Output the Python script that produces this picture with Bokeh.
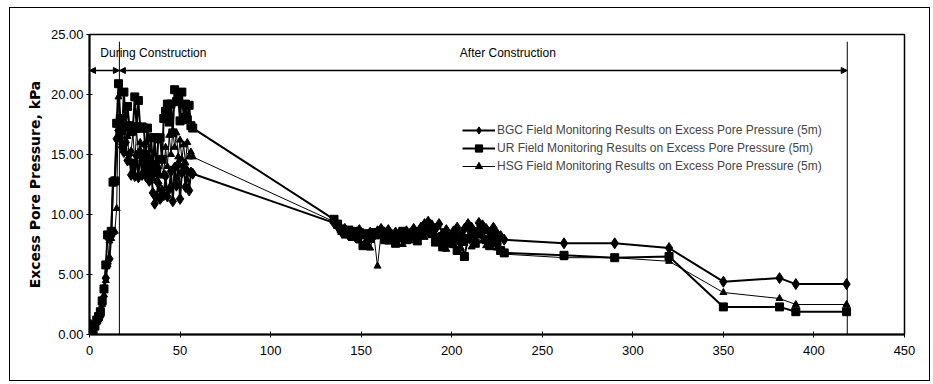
from bokeh.plotting import figure
from bokeh.models import (Range1d, FixedTicker, NumeralTickFormatter, Label, Arrow,
                          NormalHead, Legend)
from bokeh.embed import file_html
from bokeh.resources import INLINE

# ---------------- data ----------------
early_days = list(range(0, 58))
mid_days = list(range(135, 230, 2))
late_days = [262, 290, 320, 350, 381, 390, 418]

bgc_early = [0.3, 0.5, 0.6, 0.8, 1.0, 1.2, 1.5, 2.6, 3.8, 4.7, 5.9, 6.3, 8.2, 12.7, 12.8, 16.3, 17.0, 16.4,
             15.6, 15.2, 16.0, 14.5, 15.0, 13.3, 14.2, 13.2, 14.9, 13.1, 15.2, 13.3, 14.6, 13.2, 14.8, 12.8,
             13.6, 11.8, 10.9, 11.5, 12.6, 11.3, 12.0, 11.6, 13.2, 11.5, 12.1, 13.6, 11.1, 13.9, 12.4, 14.2,
             11.3, 13.5, 14.0, 12.3, 13.6, 12.0, 13.5, 13.4]
ur_early = [0.0, 0.1, 0.3, 0.7, 1.2, 1.5, 1.9, 2.8, 3.8, 5.8, 8.3, 8.2, 8.6, 12.7, 12.8, 17.6, 20.9, 18.0,
            17.0, 20.2, 17.3, 19.0, 17.4, 16.9, 17.3, 19.8, 17.3, 19.5, 17.2, 17.3, 17.2, 15.0, 17.2, 14.6,
            16.4, 14.0, 16.4, 13.5, 16.3, 16.4, 14.6, 18.0, 18.6, 19.2, 17.7, 19.2, 16.8, 20.4, 19.4, 19.8,
            17.8, 20.2, 18.1, 19.2, 17.9, 19.1, 17.4, 17.2]
hsg_early = [1.0, 0.9, 0.8, 1.0, 1.2, 1.5, 1.9, 2.5, 3.3, 4.5, 5.8, 7.8, 8.0, 8.5, 8.6, 10.5, 19.8, 16.8,
             16.0, 17.2, 15.1, 16.5, 14.6, 15.3, 16.8, 14.3, 17.0, 15.2, 16.0, 14.6, 15.8, 13.8, 15.0, 13.5,
             14.6, 13.0, 14.2, 12.8, 14.0, 13.2, 14.5, 13.4, 15.6, 14.0, 16.6, 15.0, 17.0, 15.6, 16.8, 14.8,
             16.2, 14.6, 15.8, 14.3, 16.0, 14.8, 15.2, 14.8]

bgc_mid = [9.3, 9.0, 8.6, 8.8, 8.3, 8.6, 8.1, 8.7, 8.4, 7.6, 8.5, 8.2, 8.6, 8.8, 8.3, 8.7, 8.0, 8.5, 8.4, 7.9,
           8.6, 8.3, 8.8, 8.5, 8.9, 9.2, 9.4, 9.1, 8.8, 9.2, 8.4, 8.7, 8.1, 8.6, 8.9, 8.3, 8.8, 9.2, 8.9, 8.5,
           9.3, 9.1, 8.8, 8.5, 8.9, 8.4, 8.2, 7.9]
ur_mid = [9.6, 9.2, 8.8, 8.5, 8.7, 8.2, 8.6, 8.3, 7.4, 8.4, 8.0, 8.5, 8.3, 8.6, 7.9, 8.4, 8.1, 7.6, 8.3, 8.6,
          7.9, 8.2, 8.5, 7.8, 8.3, 8.6, 8.9, 8.4, 7.7, 8.1, 7.3, 8.0, 7.6, 8.2, 7.0, 7.8, 6.5, 8.0, 8.4, 7.6,
          8.5, 8.8, 7.9, 7.4, 8.2, 7.7, 7.0, 6.8]
hsg_mid = [9.4, 9.0, 8.5, 8.2, 8.5, 8.0, 8.3, 7.8, 8.2, 7.9, 7.2, 8.3, 5.7, 8.4, 8.1, 7.7, 8.3, 7.9, 8.2, 7.5,
           8.1, 7.8, 8.3, 8.0, 8.4, 8.1, 8.7, 8.3, 7.6, 8.2, 7.8, 7.1, 8.0, 7.4, 7.9, 7.2, 7.6, 7.8, 7.3, 7.9,
           8.2, 7.8, 7.4, 8.0, 7.5, 7.2, 6.9, 6.7]

bgc_late = [7.6, 7.6, 7.2, 4.4, 4.7, 4.2, 4.2]
ur_late = [6.6, 6.4, 6.5, 2.3, 2.3, 1.9, 1.9]
hsg_late = [6.4, 6.4, 6.1, 3.5, 3.0, 2.5, 2.5]

x_ticks = [0, 50, 100, 150, 200, 250, 300, 350, 400, 450]
y_ticks = [0, 5, 10, 15, 20, 25]

phase_bounds = [0, 16.5, 418.4]   # start, end of construction, end of monitoring (days)
arrow_level = 22.0
vline_top = 24.4
phase_labels = ["During Construction", "After Construction"]
phase_label_x = [6, 231]
phase_label_y = 23.5

series_names = ["BGC Field Monitoring Results on Excess Pore Pressure (5m)",
                "UR Field Monitoring Results on Excess Pore Pressure (5m)",
                "HSG Field Monitoring Results on Excess Pore Pressure (5m)"]

# ---------------- figure ----------------
FONT = "Liberation Sans"

p = figure(width=921, height=374, x_range=Range1d(0, 450), y_range=Range1d(0, 25),
           output_backend="svg", toolbar_location=None,
           min_border_left=79, min_border_right=27, min_border_top=26, min_border_bottom=48,
           styles={"border": "1px solid black", "margin-left": "9px", "margin-top": "7px"})
p.background_fill_color = "white"
p.border_fill_color = "white"
p.outline_line_color = "black"
p.outline_line_width = 1.5
p.grid.visible = False

p.xaxis.ticker = FixedTicker(ticks=x_ticks)
p.yaxis.ticker = FixedTicker(ticks=y_ticks)
p.yaxis.formatter = NumeralTickFormatter(format="0.00")
for ax in (p.xaxis, p.yaxis):
    ax.axis_line_width = 2
    ax.axis_line_color = "black"
    ax.major_tick_line_color = "black"
    ax.major_tick_in = 3
    ax.major_tick_out = 3
    ax.minor_tick_line_color = None
    ax.major_label_text_font = "Liberation Sans"
    ax.major_label_text_font_size = "13px"
    ax.major_label_text_color = "black"
p.xaxis.major_label_standoff = 8
p.yaxis.major_label_standoff = 3
p.yaxis.axis_label = "Excess Pore Pressure, kPa"
p.yaxis.axis_label_text_font = "DejaVu Sans"
p.yaxis.axis_label_text_font_style = "bold"
p.yaxis.axis_label_text_font_size = "14px"
p.yaxis.axis_label_text_color = "black"
p.yaxis.axis_label_standoff = 5

# series
bgc_x = early_days + mid_days + late_days
bgc_y = bgc_early + bgc_mid + bgc_late
ur_y = ur_early + ur_mid + ur_late
hsg_y = hsg_early + hsg_mid + hsg_late

l1 = p.line(bgc_x, bgc_y, line_color="black", line_width=2)
m1 = p.scatter(bgc_x, bgc_y, marker="diamond", size=11, color="black")
l2 = p.line(bgc_x, ur_y, line_color="black", line_width=2)
m2 = p.scatter(bgc_x, ur_y, marker="square", size=8, color="black")
l3 = p.line(bgc_x, hsg_y, line_color="black", line_width=1)
m3 = p.scatter(bgc_x, hsg_y, marker="triangle", size=7, color="black")

legend = Legend(items=[(series_names[0], [l1, m1]), (series_names[1], [l2, m2]),
                       (series_names[2], [l3, m3])],
                location=(373, 159), padding=0, margin=0, spacing=0,
                label_height=18, glyph_height=18, glyph_width=33, label_standoff=2,
                label_text_font=FONT, label_text_font_size="12px",
                border_line_color=None, background_fill_alpha=0)
p.add_layout(legend, "center")

# phase annotation
p.segment(x0=[phase_bounds[1], phase_bounds[2]], y0=[0, 0],
          x1=[phase_bounds[1], phase_bounds[2]], y1=[vline_top, vline_top],
          line_color="black", line_width=1)
for a, b in [(phase_bounds[0], phase_bounds[1]), (phase_bounds[1], phase_bounds[2])]:
    p.add_layout(Arrow(x_start=a, y_start=arrow_level, x_end=b, y_end=arrow_level,
                       line_color="black", line_width=1.5,
                       start=NormalHead(size=6, fill_color="black", line_color="black"),
                       end=NormalHead(size=6, fill_color="black", line_color="black")))
for t, xx in zip(phase_labels, phase_label_x):
    p.add_layout(Label(x=xx, y=phase_label_y, text=t, text_font=FONT, text_font_size="12px",
                       text_baseline="middle", text_align="left" if xx < 100 else "center",
                       text_color="black"))

p.add_layout(Label(x=450, y=-37, x_units="data", y_units="screen", x_offset=1,
                   text="Time, Days", text_font="DejaVu Sans", text_font_style="bold italic",
                   text_font_size="13px", text_align="right", text_baseline="middle",
                   text_color="black"))

open("out.html", "w").write(file_html(p, INLINE))
